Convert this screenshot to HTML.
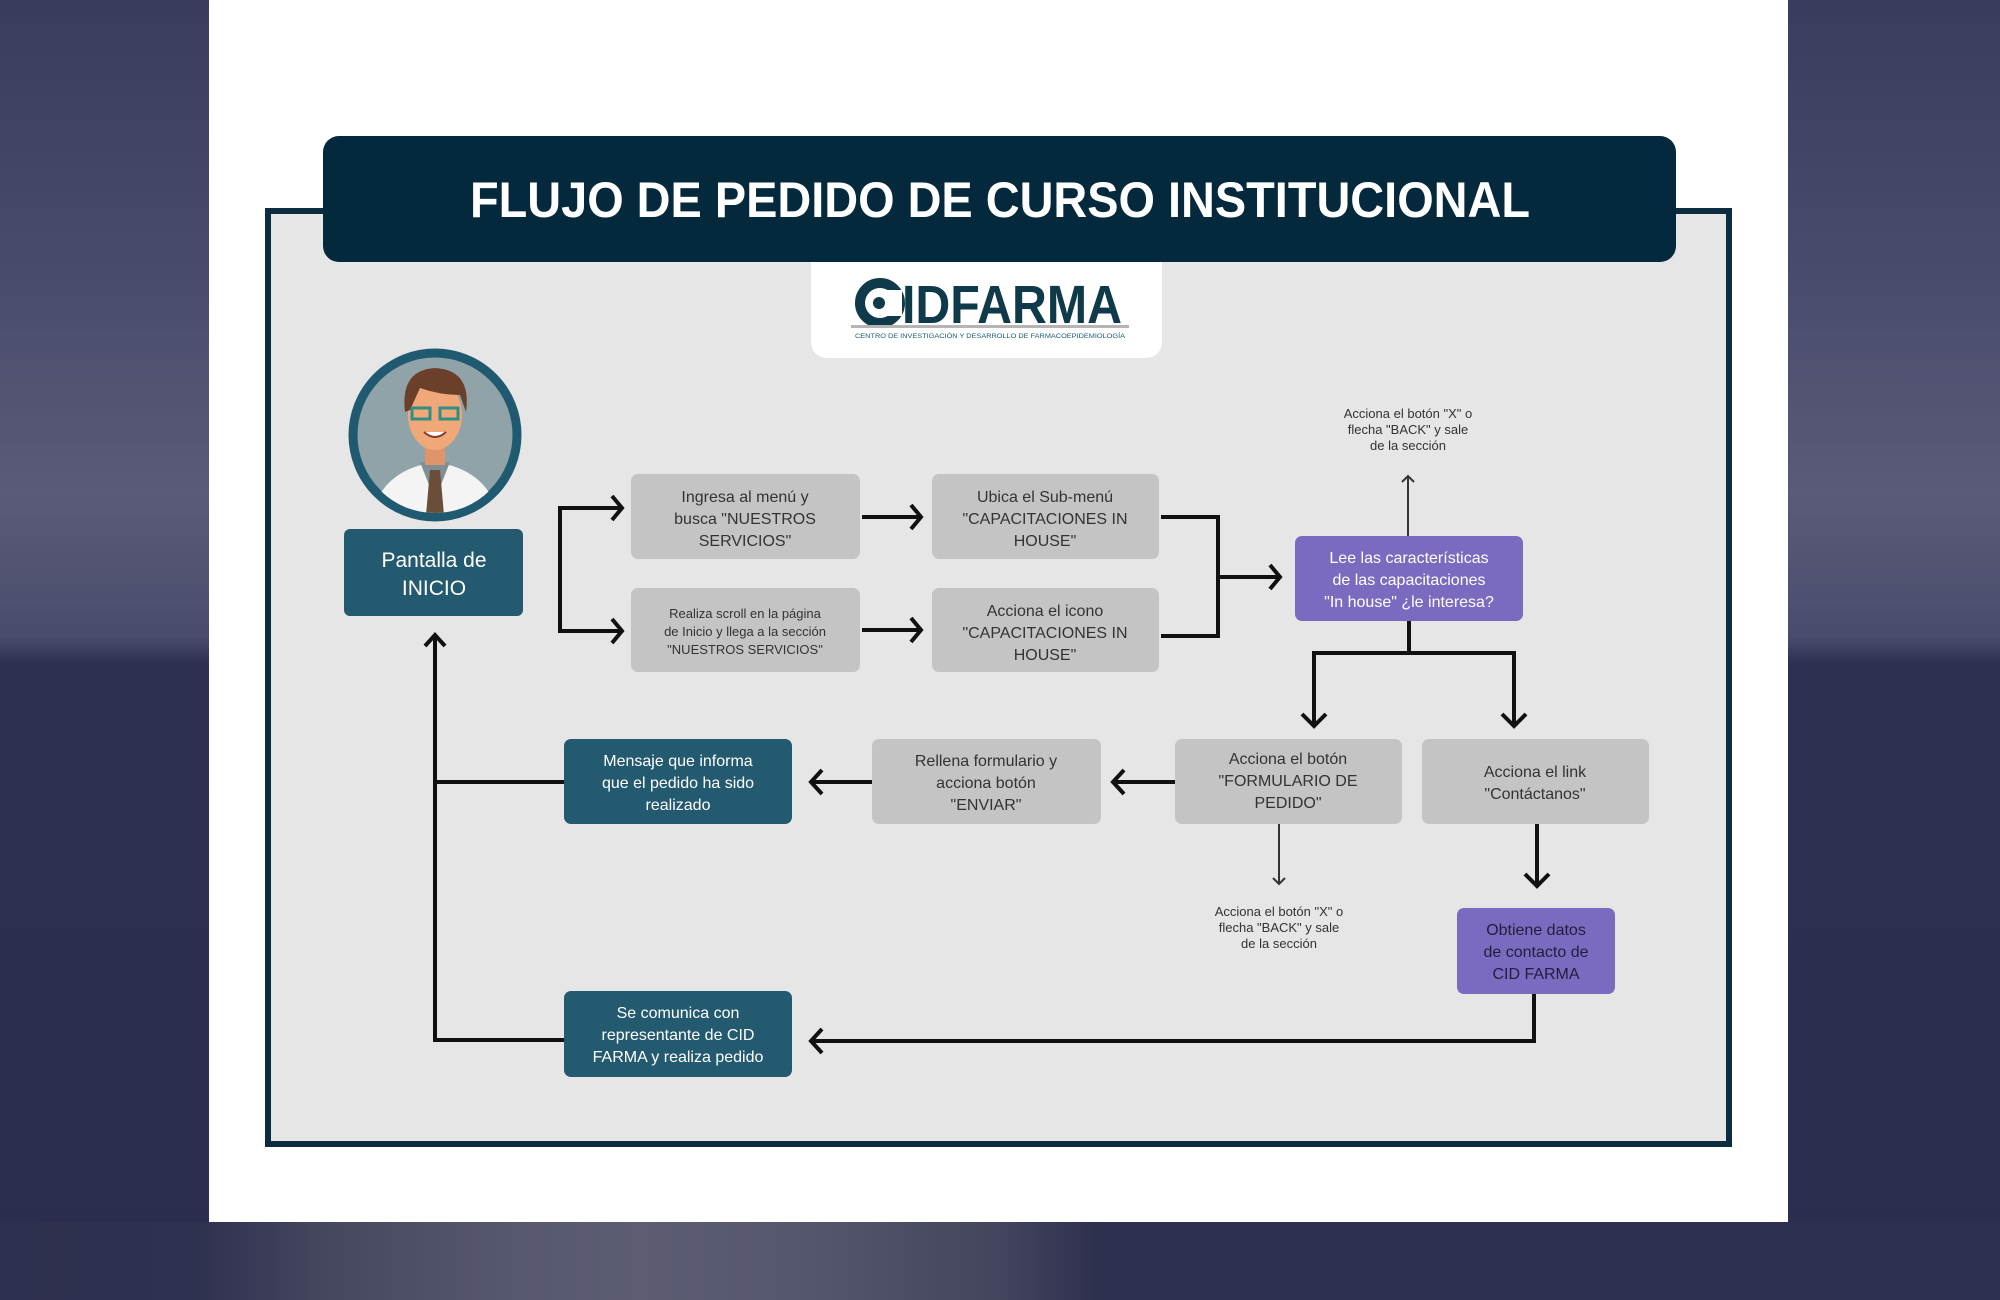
<!DOCTYPE html>
<html><head><meta charset="utf-8"><style>
html,body{margin:0;padding:0;width:2000px;height:1300px;overflow:hidden;background:#2d2f4e}
svg{display:block}
text{font-family:"Liberation Sans",sans-serif}
</style></head><body>
<svg width="2000" height="1300" viewBox="0 0 2000 1300" xmlns="http://www.w3.org/2000/svg">
<defs>
<linearGradient id="side" x1="0" y1="0" x2="0" y2="1">
<stop offset="0" stop-color="#3a3c5c"/><stop offset="0.22" stop-color="#4a4c6c"/>
<stop offset="0.38" stop-color="#5a5b78"/><stop offset="0.49" stop-color="#4a4c6c"/>
<stop offset="0.51" stop-color="#2e3050"/><stop offset="1" stop-color="#2b2d4d"/>
</linearGradient>
<linearGradient id="bot" x1="0" y1="0" x2="1" y2="0">
<stop offset="0" stop-color="#2d2f4e"/><stop offset="0.1" stop-color="#2f3150"/>
<stop offset="0.16" stop-color="#45465f"/><stop offset="0.25" stop-color="#56576f"/>
<stop offset="0.32" stop-color="#5c5d73"/><stop offset="0.4" stop-color="#55566f"/>
<stop offset="0.5" stop-color="#43455f"/><stop offset="0.55" stop-color="#2d2f4e"/>
<stop offset="1" stop-color="#2d2f4e"/>
</linearGradient>
<marker id="ah" viewBox="0 0 12 12" refX="10" refY="6" markerWidth="12" markerHeight="12" markerUnits="userSpaceOnUse" orient="auto">
</marker>
</defs>
<rect x="0" y="0" width="2000" height="1300" fill="#2d2f4e"/>
<rect x="0" y="0" width="209" height="1300" fill="url(#side)"/>
<rect x="1788" y="0" width="212" height="1300" fill="url(#side)"/>
<rect x="0" y="1222" width="2000" height="78" fill="url(#bot)"/>
<rect x="209" y="0" width="1579" height="1222" fill="#ffffff"/>

<!-- frame -->
<rect x="268" y="211" width="1461" height="933" fill="#e6e6e6" stroke="#0c2d40" stroke-width="6"/>
<rect x="323" y="136" width="1353" height="126" rx="16" fill="#04293d"/>
<text x="1000" y="217" text-anchor="middle" font-size="50" font-weight="bold" fill="#ffffff" textLength="1060" lengthAdjust="spacingAndGlyphs">FLUJO DE PEDIDO DE CURSO INSTITUCIONAL</text>

<!-- logo -->
<path d="M811 262 H1162 V340 Q1162 358 1144 358 H829 Q811 358 811 340 Z" fill="#ffffff"/>
<circle cx="880" cy="303" r="20" fill="none" stroke="#0e3a4a" stroke-width="10"/>
<circle cx="879" cy="303" r="6" fill="#0e3a4a"/>
<rect x="886" y="290" width="16" height="26" fill="#ffffff"/>
<text x="902" y="323" font-size="54" font-weight="bold" fill="#0e3a4a" textLength="220" lengthAdjust="spacingAndGlyphs">IDFARMA</text>
<rect x="851" y="325" width="278" height="3" fill="#b5b5b5"/>
<text x="990" y="338" text-anchor="middle" font-size="6" fill="#1d5870" textLength="270" lengthAdjust="spacingAndGlyphs">CENTRO DE INVESTIGACIÓN Y DESARROLLO DE FARMACOEPIDEMIOLOGÍA</text>

<!-- avatar -->
<circle cx="435" cy="435" r="82" fill="#8fa3a8" stroke="#1f5a70" stroke-width="9"/>
<clipPath id="cc"><circle cx="435" cy="435" r="78"/></clipPath>
<g clip-path="url(#cc)">
<path d="M370 520 Q380 470 435 462 Q490 470 500 520 Z" fill="#f4f4f4"/>
<path d="M420 462 L435 500 L450 462 Z" fill="#7e8f95"/>
<path d="M430 470 L440 470 L444 515 L426 515 Z" fill="#6b4e3a"/>
<rect x="425" y="440" width="20" height="25" fill="#e0946a"/>
<ellipse cx="435" cy="415" rx="27" ry="35" fill="#f0a878"/>
<path d="M405 412 Q400 370 435 368 Q472 370 466 412 L460 395 Q440 395 420 388 L410 410 Z" fill="#6b3f2a"/>
<rect x="412" y="408" width="18" height="11" fill="none" stroke="#2f8f86" stroke-width="3"/>
<rect x="440" y="408" width="18" height="11" fill="none" stroke="#2f8f86" stroke-width="3"/>
<path d="M424 432 Q435 442 446 432" fill="#fff" stroke="#8b3a2a" stroke-width="2"/>
</g>

<g font-size="16" text-anchor="middle">
<!-- Pantalla -->
<rect x="344" y="529" width="179" height="87" rx="6" fill="#245a70"/>
<text x="434" y="567" fill="#fff" font-size="21">Pantalla de</text>
<text x="434" y="595" fill="#fff" font-size="21">INICIO</text>

<!-- gray boxes -->
<g fill="#c4c4c4">
<rect x="631" y="474" width="229" height="85" rx="7"/>
<rect x="932" y="474" width="227" height="85" rx="7"/>
<rect x="631" y="588" width="229" height="84" rx="7"/>
<rect x="932" y="588" width="227" height="84" rx="7"/>
<rect x="872" y="739" width="229" height="85" rx="7"/>
<rect x="1175" y="739" width="227" height="85" rx="7"/>
<rect x="1422" y="739" width="227" height="85" rx="7"/>
</g>
<g fill="#333">
<text x="745" y="502">Ingresa al menú y</text>
<text x="745" y="524">busca "NUESTROS</text>
<text x="745" y="546">SERVICIOS"</text>
<text x="1045" y="502">Ubica el Sub-menú</text>
<text x="1045" y="524">"CAPACITACIONES IN</text>
<text x="1045" y="546">HOUSE"</text>
<text x="745" y="618" font-size="13">Realiza scroll en la página</text>
<text x="745" y="636" font-size="13">de Inicio y llega a la sección</text>
<text x="745" y="654" font-size="13">"NUESTROS SERVICIOS"</text>
<text x="1045" y="616">Acciona el icono</text>
<text x="1045" y="638">"CAPACITACIONES IN</text>
<text x="1045" y="660">HOUSE"</text>
<text x="986" y="766">Rellena formulario y</text>
<text x="986" y="788">acciona botón</text>
<text x="986" y="810">"ENVIAR"</text>
<text x="1288" y="764">Acciona el botón</text>
<text x="1288" y="786">"FORMULARIO DE</text>
<text x="1288" y="808">PEDIDO"</text>
<text x="1535" y="777">Acciona el link</text>
<text x="1535" y="799">"Contáctanos"</text>
</g>

<!-- purple -->
<rect x="1295" y="536" width="228" height="85" rx="7" fill="#7b6bc0"/>
<text x="1409" y="563" fill="#fff">Lee las características</text>
<text x="1409" y="585" fill="#fff">de las capacitaciones</text>
<text x="1409" y="607" fill="#fff">"In house" ¿le interesa?</text>
<rect x="1457" y="908" width="158" height="86" rx="7" fill="#7b6bc0"/>
<text x="1536" y="935" fill="#1f1f3a">Obtiene datos</text>
<text x="1536" y="957" fill="#1f1f3a">de contacto de</text>
<text x="1536" y="979" fill="#1f1f3a">CID FARMA</text>

<!-- teal -->
<rect x="564" y="739" width="228" height="85" rx="7" fill="#245a70"/>
<text x="678" y="766" fill="#fff">Mensaje que informa</text>
<text x="678" y="788" fill="#fff">que el pedido ha sido</text>
<text x="678" y="810" fill="#fff">realizado</text>
<rect x="564" y="991" width="228" height="86" rx="7" fill="#245a70"/>
<text x="678" y="1018" fill="#fff">Se comunica con</text>
<text x="678" y="1040" fill="#fff">representante de CID</text>
<text x="678" y="1062" fill="#fff">FARMA y realiza pedido</text>

<!-- small notes -->
<g fill="#333" font-size="13">
<text x="1408" y="418">Acciona el botón "X" o</text>
<text x="1408" y="434">flecha "BACK" y sale</text>
<text x="1408" y="450">de la sección</text>
<text x="1279" y="916">Acciona el botón "X" o</text>
<text x="1279" y="932">flecha "BACK" y sale</text>
<text x="1279" y="948">de la sección</text>
</g>
</g>

<!-- connectors -->
<g fill="none" stroke="#111" stroke-width="4" stroke-linejoin="miter">
<polyline points="620,508 560,508 560,631 620,631"/>
<polyline points="612,496 622,508 612,520"/>
<polyline points="612,619 622,631 612,643"/>
<line x1="862" y1="517" x2="919" y2="517"/><polyline points="911,505 921,517 911,529"/>
<line x1="862" y1="630" x2="919" y2="630"/><polyline points="911,618 921,630 911,642"/>
<polyline points="1161,517 1218,517 1218,636 1161,636"/>
<line x1="1218" y1="577" x2="1278" y2="577"/><polyline points="1270,565 1280,577 1270,589"/>
<polyline points="1409,621 1409,653 1314,653 1314,725"/>
<polyline points="1409,653 1514,653 1514,725"/>
<polyline points="1302,714 1314,726 1326,714"/>
<polyline points="1502,714 1514,726 1526,714"/>
<line x1="1175" y1="782" x2="1115" y2="782"/><polyline points="1124,770 1113,782 1124,794"/>
<line x1="872" y1="782" x2="813" y2="782"/><polyline points="822,770 811,782 822,794"/>
<line x1="1537" y1="824" x2="1537" y2="884"/><polyline points="1525,874 1537,886 1549,874"/>
<polyline points="1534,994 1534,1041 813,1041"/><polyline points="822,1029 811,1041 822,1053"/>
<polyline points="564,782 435,782"/>
<polyline points="564,1040 435,1040 435,636"/>
<polyline points="425,646 435,635 445,646"/>
</g>
<g fill="none" stroke="#333" stroke-width="2">
<line x1="1408" y1="536" x2="1408" y2="476"/><polyline points="1402,482 1408,476 1414,482"/>
<line x1="1279" y1="824" x2="1279" y2="884"/><polyline points="1273,878 1279,884 1285,878"/>
</g>
</svg>
</body></html>
